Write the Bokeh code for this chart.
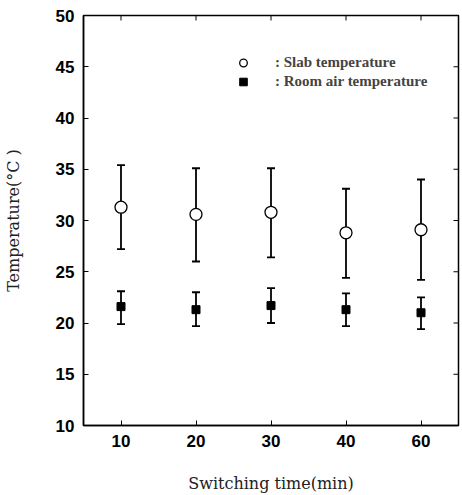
import math
from bokeh.plotting import figure
from bokeh.models import (ColumnDataSource, Whisker, TeeHead, FactorRange, Range1d,
                          Legend, LegendItem, FixedTicker)
from bokeh.embed import file_html
from bokeh.resources import INLINE

categories = ["10", "20", "30", "40", "60"]
slab_mean = [31.3, 30.6, 30.8, 28.8, 29.1]
slab_upper = [35.4, 35.1, 35.1, 33.1, 34.0]
slab_lower = [27.2, 26.0, 26.4, 24.4, 24.2]
room_mean = [21.6, 21.3, 21.7, 21.3, 21.0]
room_upper = [23.1, 23.0, 23.4, 22.9, 22.5]
room_lower = [19.9, 19.7, 20.0, 19.7, 19.4]
y_ticks = [10, 15, 20, 25, 30, 35, 40, 45, 50]

slab = ColumnDataSource(dict(x=categories, y=slab_mean, up=slab_upper, lo=slab_lower))
room = ColumnDataSource(dict(x=categories, y=room_mean, up=room_upper, lo=room_lower))

p = figure(width=460, height=495, x_range=FactorRange(*categories, range_padding=0),
           y_range=Range1d(10, 50), output_backend="svg", toolbar_location=None,
           min_border_left=81, min_border_right=2, min_border_top=15, min_border_bottom=0)
p.grid.visible = False
p.outline_line_color = "black"
p.outline_line_width = 1.5
p.background_fill_color = "white"
p.border_fill_color = "white"

for ax in (p.xaxis[0], p.yaxis[0]):
    ax.axis_line_width = 1.5
    ax.major_tick_in = 5
    ax.major_tick_out = 0
    ax.major_tick_line_width = 1
    ax.minor_tick_line_color = None
    ax.major_label_text_font = "Liberation Sans"
    ax.major_label_text_font_style = "bold"
    ax.major_label_text_font_size = "17px"
    ax.major_label_text_color = "black"
    ax.axis_label_text_font = "DejaVu Serif"
    ax.axis_label_text_font_style = "normal"
    ax.axis_label_text_font_size = "16px"
    ax.axis_label_text_color = "#222222"

p.yaxis.ticker = FixedTicker(ticks=y_ticks)
p.yaxis.axis_label = "Temperature(\u00b0C )"
p.yaxis.axis_label_standoff = 30
p.yaxis.major_label_standoff = 9
p.xaxis.axis_label = "Switching time(min)"
p.xaxis.axis_label_standoff = 24
p.xaxis.major_label_standoff = 9

# inward ticks on the right and top edges of the frame
right_x = [(categories[-1], 0.5)] * len(y_ticks)
p.ray(x=right_x, y=y_ticks, length=5, length_units="screen", angle=math.pi,
      line_color="black", line_width=1)
top_y = [y_ticks[-1]] * len(categories)
p.ray(x=categories, y=top_y, length=5, length_units="screen", angle=-math.pi / 2,
      line_color="black", line_width=1)

head = dict(size=8, line_color="black", line_width=1.8)
p.add_layout(Whisker(source=slab, base="x", upper="up", lower="lo",
                     line_color="black", line_width=1.8,
                     upper_head=TeeHead(**head), lower_head=TeeHead(**head)))
p.add_layout(Whisker(source=room, base="x", upper="up", lower="lo",
                     line_color="black", line_width=1.8,
                     upper_head=TeeHead(**head), lower_head=TeeHead(**head)))

r_slab = p.scatter("x", "y", source=slab, marker="circle", size=12,
                   fill_color="white", line_color="black", line_width=1.3)
r_room = p.scatter("x", "y", source=room, marker="square", size=8,
                   fill_color="black", line_color="black")

legend = Legend(items=[LegendItem(label=": Slab temperature", renderers=[r_slab]),
                       LegendItem(label=": Room air temperature", renderers=[r_room])],
                location=(150, 334), border_line_color=None, background_fill_alpha=0,
                label_text_font="Liberation Serif", label_text_font_style="bold",
                label_text_font_size="15px", glyph_width=20, glyph_height=19,
                label_standoff=22, spacing=0, padding=0, margin=0, label_height=19)
p.add_layout(legend, "center")

open("out.html", "w").write(file_html(p, INLINE))
